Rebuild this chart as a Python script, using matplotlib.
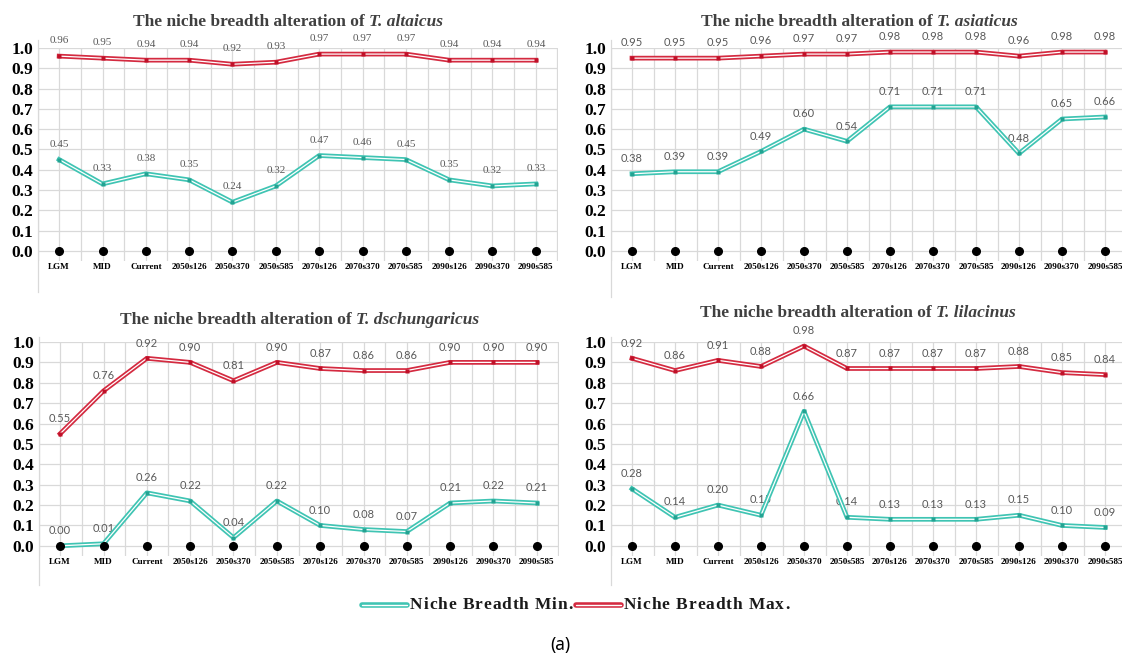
import matplotlib
matplotlib.use("Agg")
"""Niche breadth alteration (min / max) of four Tulipa species across periods."""

import numpy as np
import matplotlib.pyplot as plt
import matplotlib.patheffects as pe
from matplotlib.lines import Line2D

periods = ["LGM", "MID", "Current", "2050s126", "2050s370", "2050s585",
           "2070s126", "2070s370", "2070s585", "2090s126", "2090s370", "2090s585"]

altaicus_max = [0.96, 0.95, 0.94, 0.94, 0.92, 0.93, 0.97, 0.97, 0.97, 0.94, 0.94, 0.94]
altaicus_min = [0.45, 0.33, 0.38, 0.35, 0.24, 0.32, 0.47, 0.46, 0.45, 0.35, 0.32, 0.33]
asiaticus_max = [0.95, 0.95, 0.95, 0.96, 0.97, 0.97, 0.98, 0.98, 0.98, 0.96, 0.98, 0.98]
asiaticus_min = [0.38, 0.39, 0.39, 0.49, 0.60, 0.54, 0.71, 0.71, 0.71, 0.48, 0.65, 0.66]
dschungaricus_max = [0.55, 0.76, 0.92, 0.90, 0.81, 0.90, 0.87, 0.86, 0.86, 0.90, 0.90, 0.90]
dschungaricus_min = [0.00, 0.01, 0.26, 0.22, 0.04, 0.22, 0.10, 0.08, 0.07, 0.21, 0.22, 0.21]
lilacinus_max = [0.92, 0.86, 0.91, 0.88, 0.98, 0.87, 0.87, 0.87, 0.87, 0.88, 0.85, 0.84]
lilacinus_min = [0.28, 0.14, 0.20, 0.15, 0.66, 0.14, 0.13, 0.13, 0.13, 0.15, 0.10, 0.09]

legend_labels = ["Niche Breadth Min.", "Niche Breadth Max."]

MIN_COLOR = "#3fc4b3"
MIN_DOT = "#23a392"
MAX_COLOR = "#d42a40"
MAX_DOT = "#c01028"
GRID = "#d9d9d9"
SERIF = "Liberation Serif"

W, H = 1122, 661


def fx(px):
    return px / W


def fy(py):
    return 1 - py / H


def outlined(color, lw=3.4):
    return [pe.Stroke(linewidth=lw, foreground=color), pe.Normal()]


def double_line(ax, x, y, color, dot):
    ax.plot(x, y, color="white", lw=0.9, zorder=4, clip_on=False,
            path_effects=outlined(color))
    ax.plot(x, y, "s", ms=2.2, color=dot, mec="none", zorder=5, clip_on=False)


def text_width(fig, s, **kw):
    r = fig.canvas.get_renderer()
    t = fig.text(0, 0, s, **kw)
    w = t.get_window_extent(r).width
    t.remove()
    return w


def title(fig, cx, cy, species):
    kw = dict(family=SERIF, weight="bold", fontsize=12.5, color="#404040", va="center")
    head = "The niche breadth alteration of"
    tail = "T. " + species
    gap = 12.5 * 100 / 72 * 0.25
    w1 = text_width(fig, head, **kw)
    w2 = text_width(fig, tail, style="italic", **kw)
    x0 = cx - (w1 + gap + w2) / 2
    fig.text(fx(x0), fy(cy), head, ha="left", **kw)
    fig.text(fx(x0 + w1 + gap), fy(cy), tail, ha="left", style="italic", **kw)


def spaced_text(fig, x, y, s, spacing, **kw):
    # draw character by character to get wider tracking
    for ch in s:
        if ch != " ":
            fig.text(fx(x), fy(y), ch, ha="left", va="center", **kw)
        x += text_width(fig, "x" + ch + "x", **kw) - text_width(fig, "xx", **kw) + spacing
    return x


def panel(fig, rect, species, vmin, vmax, title_xy, label_font):
    ax = fig.add_axes(rect)
    x = np.arange(len(periods))
    ax.set_xlim(-0.5, len(periods) - 0.5)
    ax.set_ylim(-0.05, 1.0)
    yt = np.round(np.arange(0, 1.01, 0.1), 1)
    ax.set_yticks(yt)
    ax.set_yticklabels([f"{t:.1f}" for t in yt], family=SERIF, weight="bold", fontsize=12.5)
    ax.set_xticks(x)
    ax.set_xticklabels(periods, family=SERIF, weight="bold", fontsize=6.6)
    ax.set_xticks(np.arange(-0.5, len(periods)), minor=True)
    ax.tick_params(axis="both", which="both", length=0)
    ax.tick_params(axis="y", pad=3)
    ax.tick_params(axis="x", pad=1.5)
    ax.grid(True, which="both", axis="x", color=GRID, lw=0.9)
    ax.grid(True, which="major", axis="y", color=GRID, lw=0.9)
    ax.set_axisbelow(True)
    for s in ("top", "right", "bottom", "left"):
        ax.spines[s].set_visible(False)

    ax.plot(x, np.zeros(len(x)), "o", color="black", ms=5.5, zorder=6, clip_on=False)
    double_line(ax, x, vmin, MIN_COLOR, MIN_DOT)
    double_line(ax, x, vmax, MAX_COLOR, MAX_DOT)

    for series in (vmin, vmax):
        for xi, v in zip(x, series):
            ax.annotate(f"{v:.2f}", (xi, v), xytext=(0, 11), textcoords="offset points",
                        ha="center", va="center", fontsize=8, color="#595959",
                        family=label_font, annotation_clip=False)

    title(fig, title_xy[0], title_xy[1], species)
    return ax


def main() -> None:
    fig = plt.figure(figsize=(W / 100, H / 100), dpi=100)

    top = (fy(261), fy(48) - fy(261))
    bot = (fy(556), fy(342) - fy(556))
    panel(fig, [fx(37.5), top[0], fx(520), top[1]], "altaicus",
          altaicus_min, altaicus_max, (288, 22), SERIF)
    panel(fig, [fx(610.5), top[0], fx(516), top[1]], "asiaticus",
          asiaticus_min, asiaticus_max, (859, 22), "Lato")
    panel(fig, [fx(38.5), bot[0], fx(520), bot[1]], "dschungaricus",
          dschungaricus_min, dschungaricus_max, (300, 320), "Lato")
    panel(fig, [fx(610.5), bot[0], fx(516), bot[1]], "lilacinus",
          lilacinus_min, lilacinus_max, (858, 313), "Lato")

    # y-axis lines run past the plotting area, down to the panel bottom
    for xp, y0, y1 in ((37.5, 40, 292), (610.5, 40, 297), (38.5, 337, 585), (610.5, 337, 585)):
        fig.add_artist(Line2D([fx(xp), fx(xp)], [fy(y0), fy(y1)], color=GRID, lw=0.9))

    # legend: outlined line swatches followed by tracked bold serif labels
    lkw = dict(family=SERIF, weight="bold", fontsize=12.5, color="#1a1a1a")
    x = 362
    for label, color in zip(legend_labels, (MIN_COLOR, MAX_COLOR)):
        fig.add_artist(Line2D([fx(x), fx(x + 45)], [fy(605), fy(605)], color="white",
                              lw=1.0, solid_capstyle="round",
                              path_effects=outlined(color, 4.0)))
        x = spaced_text(fig, x + 48, 605, label, 0.9, **lkw) + 2

    fig.text(fx(560), fy(645), "(a)", ha="center", va="center",
             family="Noto Sans", weight="bold", fontsize=12.5)

    fig.savefig("out.png", dpi=100)


if __name__ == "__main__":
    main()
